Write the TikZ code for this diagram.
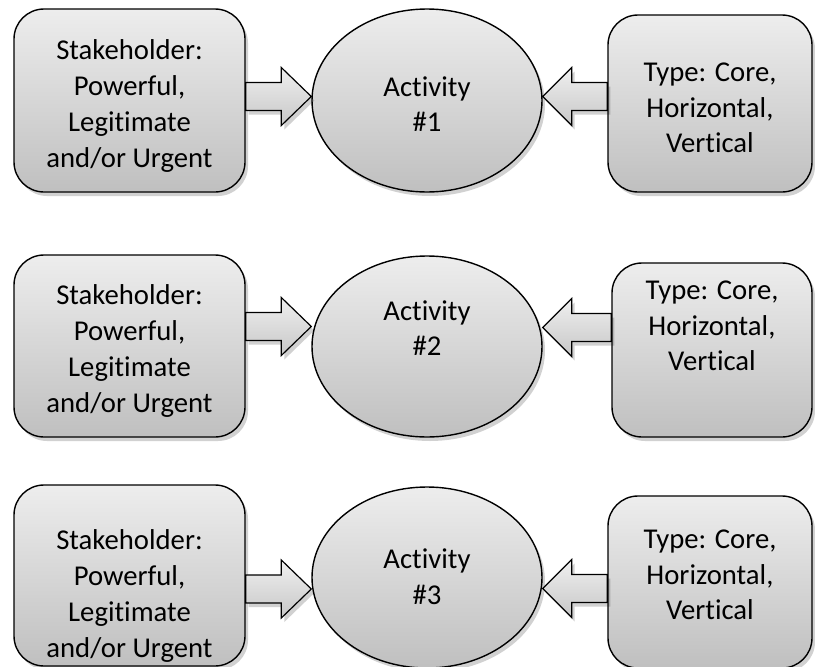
\documentclass[tikz,border=0pt]{standalone}
\usepackage{fontspec}
\setmainfont{Carlito}[RawFeature={-liga;-calt;-clig}]
\usetikzlibrary{calc,shadows,shapes.geometric}

\tikzset{
  shapefill/.style={top color=black!7, bottom color=black!25, draw=black, line width=1.4pt,
    drop shadow={shadow xshift=3pt, shadow yshift=-4pt, fill=black, opacity=0.18}},
  sidebox/.style={shapefill, rounded corners=30pt, inner sep=0pt},
  hub/.style={shapefill, ellipse, inner sep=0pt, minimum width=230pt, minimum height=183pt},
  arrowbody/.style={top color=black!6, bottom color=black!22, draw=black, line width=1.2pt,
    line join=miter,
    drop shadow={shadow xshift=3pt, shadow yshift=-4pt, fill=black, opacity=0.18}},
  caption/.style={align=center, font=\fontsize{28.7}{35.7}\selectfont, inner sep=0pt}
}

% block arrow pointing right: from the east side of #1 to the west side of #2,
% axis shifted by #3 (canvas pt) from the centre of #2
\newcommand\rightblock[3]{%
  \path[arrowbody] let \p1=(#1.east), \p2=(#2.west) in
    (\x1,\y2+#3+14pt) -- (\x2-30pt,\y2+#3+14pt) -- (\x2-30pt,\y2+#3+29pt)
    -- (\x2,\y2+#3) -- (\x2-30pt,\y2+#3-29pt) -- (\x2-30pt,\y2+#3-14pt)
    -- (\x1,\y2+#3-14pt) -- cycle;}
% block arrow pointing left: from the west side of #1 to the east side of #2
\newcommand\leftblock[3]{%
  \path[arrowbody] let \p1=(#1.west), \p2=(#2.east) in
    (\x1,\y2+#3+14pt) -- (\x2+29pt,\y2+#3+14pt) -- (\x2+29pt,\y2+#3+29pt)
    -- (\x2,\y2+#3) -- (\x2+29pt,\y2+#3-29pt) -- (\x2+29pt,\y2+#3-14pt)
    -- (\x1,\y2+#3-14pt) -- cycle;}

\begin{document}
\begin{tikzpicture}[x=1pt,y=-1pt]
\useasboundingbox (0,0) rectangle (815,667);

% row 1
\node[sidebox, minimum width=231pt, minimum height=183pt] (L1) at (129.5,100.5) {};
\node[hub] (E1) at (427,100.5) {};
\node[sidebox, minimum width=204pt, minimum height=177pt] (R1) at (710,103.5) {};
\rightblock{L1}{E1}{4pt}
\leftblock{R1}{E1}{4pt}

% row 2
\node[sidebox, minimum width=231pt, minimum height=182pt] (L2) at (129.5,346) {};
\node[hub, minimum height=181pt] (E2) at (427,346.5) {};
\node[sidebox, minimum width=200pt, minimum height=174pt] (R2) at (712,350) {};
\rightblock{L2}{E2}{20pt}
\leftblock{R2}{E2}{19pt}

% row 3
\node[sidebox, minimum width=231pt, minimum height=181pt] (L3) at (129.5,575.5) {};
\node[hub, minimum height=181pt] (E3) at (427,577.5) {};
\node[sidebox, minimum width=204pt, minimum height=172pt] (R3) at (710,582) {};
\rightblock{L3}{E3}{-11.5pt}
\leftblock{R3}{E3}{-11pt}

% texts
\node[caption] (tL1) at (129.5,106) {Stakeholder:\\Powerful,\\Legitimate\\and/or Urgent};
\node[caption] (tE1) at (427,104) {Activity\\\#1};
\node[caption] (tR1) at (710,108) {Type: Core,\\Horizontal,\\Vertical};

\node[caption] (tL2) at (129.5,351) {Stakeholder:\\Powerful,\\Legitimate\\and/or Urgent};
\node[caption] (tE2) at (427,328) {Activity\\\#2};
\node[caption] (tR2) at (712,326) {Type: Core,\\Horizontal,\\Vertical};

\node[caption] (tL3) at (129.5,596) {Stakeholder:\\Powerful,\\Legitimate\\and/or Urgent};
\node[caption] (tE3) at (427,577) {Activity\\\#3};
\node[caption] (tR3) at (710,575) {Type: Core,\\Horizontal,\\Vertical};
\end{tikzpicture}
\end{document}
